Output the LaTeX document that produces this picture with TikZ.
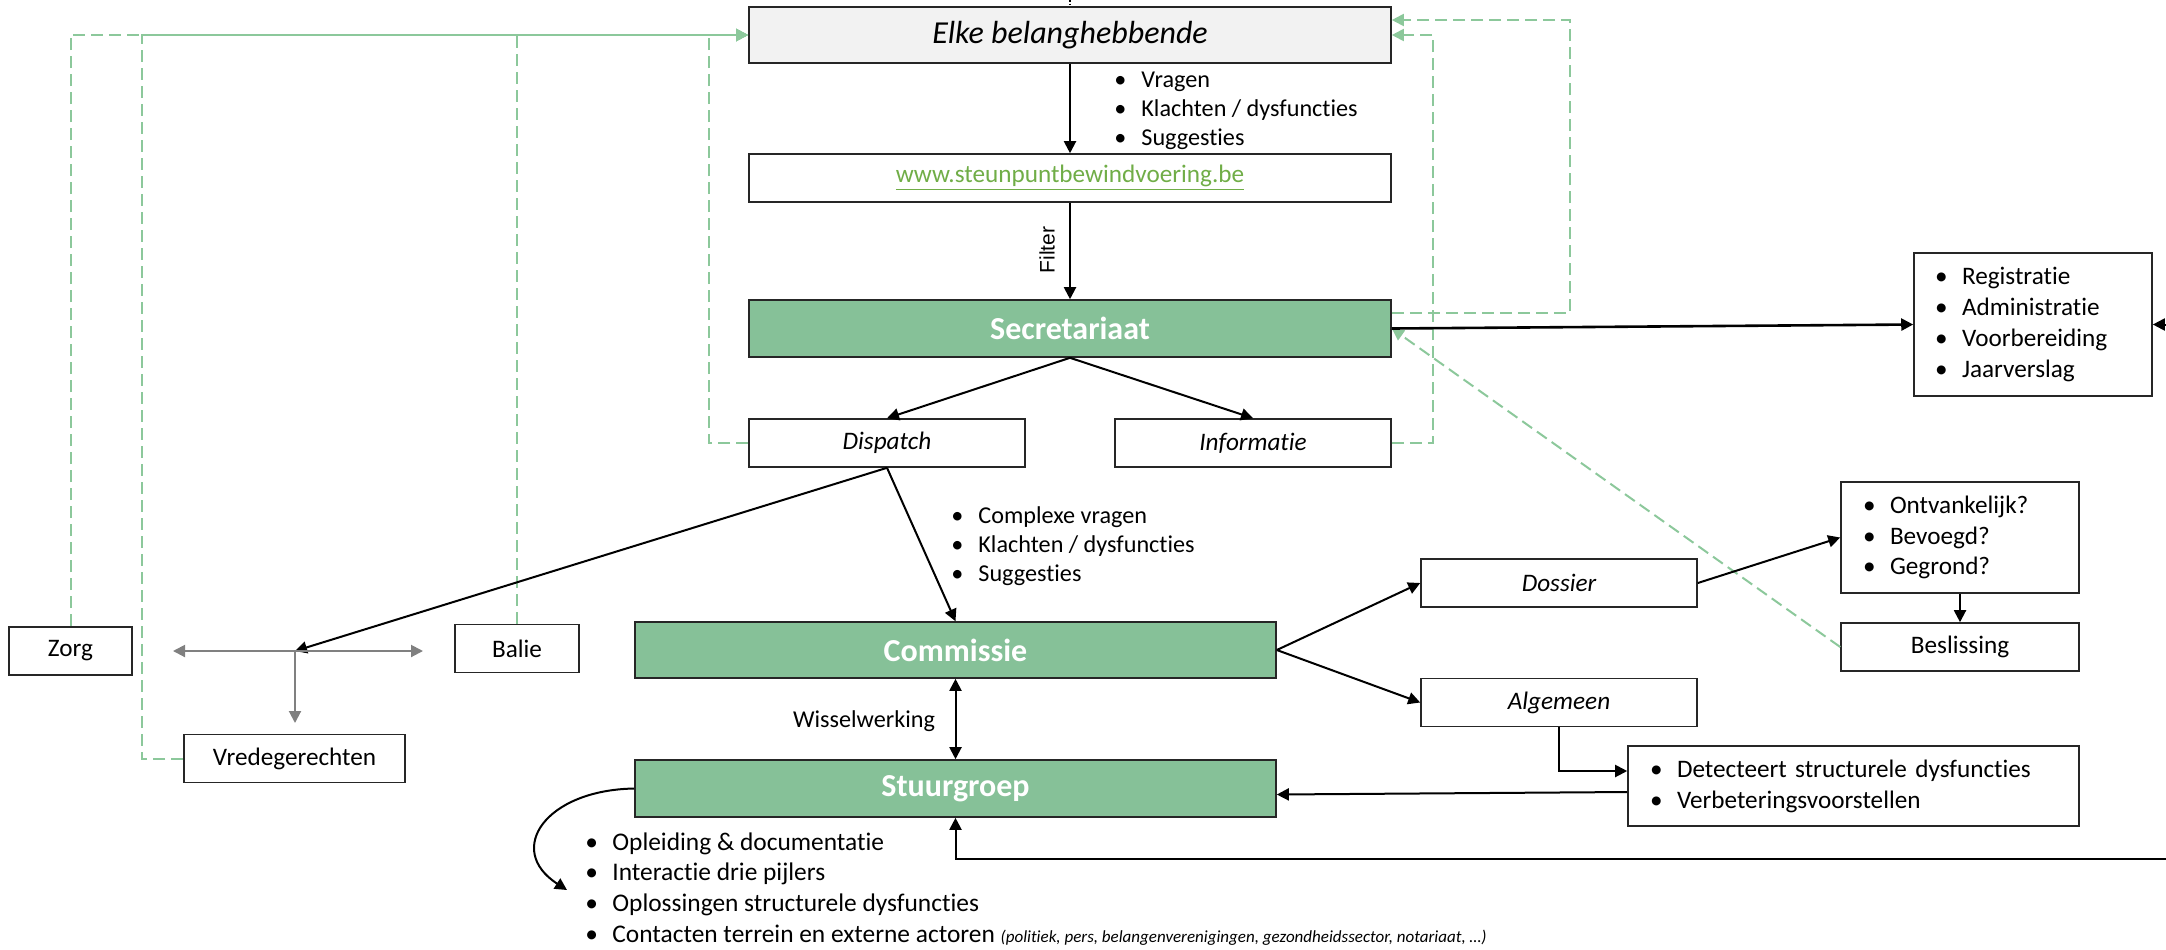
\documentclass[tikz,border=0pt]{standalone}
\usepackage{fontspec}
\setmainfont{Carlito}[Ligatures=NoCommon]
\newfontfamily\filterfont{Liberation Sans}
\usetikzlibrary{arrows.meta}
\definecolor{groen}{RGB}{134,193,152}
\definecolor{lijngroen}{RGB}{140,200,155}
\definecolor{linkgroen}{RGB}{112,173,71}
\definecolor{lichtgrijs}{RGB}{242,242,242}
\newcommand{\itm}[1]{\makebox[13.5pt][l]{\textbullet}#1}

\begin{document}
\begin{tikzpicture}[x=0.5pt,y=-0.5pt,
  doos/.style={draw=black!85,line width=0.8pt,inner sep=0pt,minimum height=24pt,font=\fontsize{12.6}{15.4}\selectfont},
  schuin/.style={doos,font=\fontsize{12.6}{15.4}\selectfont\itshape},
  groendoos/.style={doos,fill=groen,text=white,font=\fontsize{16}{19}\selectfont\bfseries,minimum width=321pt,minimum height=28.5pt},
  lijst/.style={align=left,inner sep=0pt,font=\fontsize{12.1}{14.6}\selectfont},
  pijl/.style={line width=1pt,-{Triangle[length=6pt,width=6pt]}},
  tweepijl/.style={line width=1pt,{Triangle[length=6pt,width=6pt]}-{Triangle[length=6pt,width=6pt]}},
  grijs/.style={draw=gray,line width=1pt,-{Triangle[length=6pt,width=6pt]}},
  stippel/.style={draw=lijngroen,line width=1pt,dash pattern=on 6pt off 3pt},
  sp/.style={stippel,-{Triangle[length=6pt,width=6pt]}}]
\useasboundingbox (0,0) rectangle (2166,949);

\node[doos,fill=lichtgrijs,minimum width=321pt,minimum height=28pt,font=\fontsize{16}{19}\selectfont\itshape] (elke) at (1070,35) {Elke belanghebbende};
\node[doos,minimum width=321pt] (www) at (1070,178) {\color{linkgroen}\underline{www.steunpuntbewindvoering.be}};
\node[groendoos] (secr) at (1070,328.5) {Secretariaat};
\node[schuin,minimum width=138pt] (dispatch) at (887,443) {Dispatch};
\node[schuin,minimum width=138pt] (info) at (1253,443) {Informatie};
\node[doos,minimum width=119pt,minimum height=71.5pt,align=left,text width=98pt] (regi) at (2033,324.5) {\itm{Registratie}\\\itm{Administratie}\\\itm{Voorbereiding}\\\itm{Jaarverslag}};

\node[doos,minimum width=61.5pt] (zorg) at (70.5,651) {Zorg};
\node[doos,minimum width=62pt] (balie) at (517,648.5) {Balie};
\node[doos,minimum width=110.5pt] (vrede) at (294.5,758.5) {Vredegerechten};
\node[groendoos,minimum width=320.5pt,minimum height=28pt] (comm) at (955.5,650) {Commissie};
\node[groendoos,minimum width=320.5pt] (stuur) at (955.5,788.5) {Stuurgroep};

\node[schuin,minimum width=138pt] (dossier) at (1559,583) {Dossier};
\node[schuin,minimum width=138pt] (algemeen) at (1559,702.5) {Algemeen};
\node[doos,minimum width=119pt,minimum height=55.5pt,align=left,text width=97pt] (ontv) at (1960,537.5) {\itm{Ontvankelijk?}\\\itm{Bevoegd?}\\\itm{Gegrond?}};
\node[doos,minimum width=119pt] (besl) at (1960,647) {Beslissing};
\node[doos,minimum width=225.5pt,minimum height=40pt,align=left,text width=203.5pt] (detect) at (1853.5,786) {\itm{Detecteert structurele dysfuncties}\\\itm{Verbeteringsvoorstellen}};

\node[lijst,anchor=west] (vragen) at (1114,111) {\itm{Vragen}\\\itm{Klachten / dysfuncties}\\\itm{Suggesties}};
\node[lijst,anchor=west] (complex) at (951,546) {\itm{Complexe vragen}\\\itm{Klachten / dysfuncties}\\\itm{Suggesties}};
\node[lijst,anchor=west,font=\fontsize{12.7}{15.4}\selectfont] (taken) at (585,889) {\itm{Opleiding \& documentatie}\\\itm{Interactie drie pijlers}\\\itm{Oplossingen structurele dysfuncties}\\\itm{Contacten terrein en externe actoren {\fontsize{8.5}{10}\selectfont\itshape (politiek, pers, belangenverenigingen, gezondheidssector, notariaat, \dots)}}};
\node[font=\filterfont\fontsize{10.5}{12}\selectfont,rotate=90] (filter) at (1047,250) {Filter};
\node[font=\fontsize{12.1}{15}\selectfont] (wissel) at (864,721) {Wisselwerking};

\coordinate (boven) at (1070,0);
\coordinate (kruis) at (295,651);
\coordinate (links) at (173,651);
\coordinate (rechts) at (423,651);
\coordinate (onder) at (295,723);
\coordinate (regin) at (2166,324.5);
\coordinate (terug) at (2166,859);
\coordinate (krul) at (567,890);
\coordinate (vk) at (142,35);
\coordinate (dk) at (709,35);
\coordinate (ik) at (1433,35);
\coordinate (sk) at (1570,20);

% terugkoppeling
\draw[sp] (zorg.north) |- (elke.west);
\draw[sp] (vrede.west) -| (vk) -- (elke.west);
\draw[sp] (balie.north) |- (elke.west);
\draw[sp] (dispatch.west) -| (dk) -- (elke.west);
\draw[sp] (info.east) -| (ik) -- (elke.east);
\draw[sp] ([yshift=7.75pt]secr.east) -| (sk) -- ([yshift=7.5pt]elke.east);
\draw[sp] (besl.west) -- (secr.east);

\draw[densely dotted,line width=0.8pt] (boven) -- (elke.north);
\draw[pijl] (elke) -- (www);
\draw[pijl] (www) -- (secr);
\draw[pijl] (secr.south) -- (dispatch.north);
\draw[pijl] (secr.south) -- (info.north);
\draw[pijl,line width=1.3pt] (secr.east) -- (regi.west);
\draw[pijl] (regin) -- (regi.east);
\draw[pijl] (dispatch.south) -- (comm.north);
\draw[pijl] (dispatch.south) -- (kruis);
\draw[grijs,{Triangle[length=6pt,width=6pt]}-{Triangle[length=6pt,width=6pt]}] (links) -- (rechts);
\draw[grijs] (kruis) -- (onder);
\draw[tweepijl] (comm) -- (stuur);
\draw[pijl] (comm.east) -- (dossier.west);
\draw[pijl] (comm.east) -- (algemeen.west);
\draw[pijl] (dossier.east) -- (ontv.west);
\draw[pijl] (ontv) -- (besl);
\draw[pijl] (algemeen.south) |- ([yshift=7.5pt]detect.west);
\draw[pijl] ([yshift=-3pt]detect.west) -- ([yshift=-3pt]stuur.east);
\draw[pijl] (terug) -| (stuur.south);
\draw[pijl] (stuur.west) .. controls (545,790) and (505,850) .. (krul);
\end{tikzpicture}
\end{document}
